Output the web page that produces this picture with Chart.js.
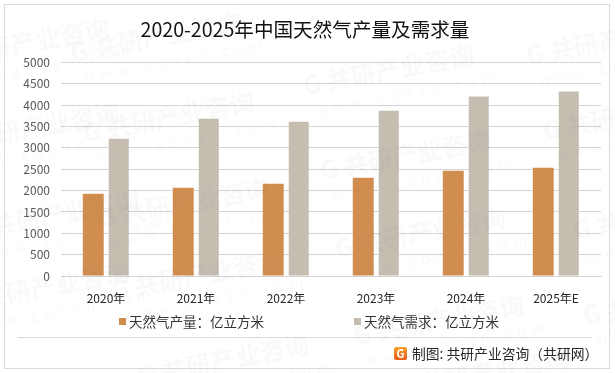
<!DOCTYPE html>
<html lang="zh">
<head>
    <meta charset="UTF-8">
    <title>2020-2025年中国天然气产量及需求量</title>
    <script src="https://cdn.jsdelivr.net/npm/chart.js"></script>
    <style>
        * {
            margin: 0;
            padding: 0;
            box-sizing: border-box;
        }

        body {
            background: #ffffff;
            width: 615px;
            height: 373px;
            overflow: hidden;
        }

        .chart-container {
            position: relative;
            width: 615px;
            height: 373px;
        }

        .frame {
            position: absolute;
            left: 4px;
            top: 4px;
            width: 606px;
            height: 365px;
            border: 1px solid #d9d9d9;
            pointer-events: none;
        }
    </style>
</head>
<body>
    <div class="chart-container">
        <canvas id="gasChart" width="615" height="373"></canvas>
        <div class="frame"></div>
    </div>

    <script>
        const years = ['2020年', '2021年', '2022年', '2023年', '2024年', '2025年E'];
        const output = [1925, 2065, 2160, 2300, 2465, 2535];
        const demand = [3216, 3685, 3615, 3873, 4202, 4319];
        const yTicks = [0, 500, 1000, 1500, 2000, 2500, 3000, 3500, 4000, 4500, 5000];

        const fontName = '"Noto Sans CJK SC", "Noto Sans", sans-serif';

        // watermark start points, repeated over the whole picture
        const markSpots = [
            [-60, 68], [72, 62], [305, 95], [528, 65],
            [-50, 152], [85, 142], [322, 180], [545, 140],
            [-30, 240], [100, 228], [337, 258], [575, 240],
            [-40, 312], [113, 300], [355, 345], [585, 325],
            [140, 385], [400, 398]
        ];

        // the legend items sit far apart, so it is drawn here from the datasets
        const legendX = [119, 354];

        const bottomLegend = {
            id: 'bottomLegend',
            afterDraw(chart) {
                const c = chart.ctx;
                c.save();
                c.textBaseline = 'middle';
                c.font = '13.5px ' + fontName;
                chart.data.datasets.forEach((ds, i) => {
                    c.fillStyle = ds.backgroundColor;
                    c.fillRect(legendX[i], 318, 7, 7);
                    c.fillStyle = '#333333';
                    c.fillText(ds.label, legendX[i] + 10, 321.5);
                });
                c.restore();
            }
        };

        const watermark = {
            id: 'watermark',
            afterDraw(chart) {
                const c = chart.ctx;
                markSpots.forEach(([x, y]) => {
                    c.save();
                    c.translate(x, y);
                    c.rotate(-10.5 * Math.PI / 180);
                    c.fillStyle = 'rgba(120, 120, 120, 0.045)';
                    c.font = 'bold 25px ' + fontName;
                    c.fillText('G 共研产业咨询', 0, 0);
                    c.font = '14px ' + fontName;
                    c.letterSpacing = '6px';
                    c.fillText('www.gonyn.com', 8, 22);
                    c.restore();
                });
            }
        };

        const footer = {
            id: 'footer',
            afterDraw(chart) {
                const c = chart.ctx;
                c.save();
                c.strokeStyle = '#d9d9d9';
                c.beginPath();
                c.moveTo(18, 337.5);
                c.lineTo(592, 337.5);
                c.stroke();

                const grad = c.createLinearGradient(0, 347, 0, 360);
                grad.addColorStop(0, '#f6a12b');
                grad.addColorStop(1, '#ea5a1c');
                c.fillStyle = grad;
                c.beginPath();
                c.roundRect(394, 347, 13, 13, 2);
                c.fill();
                c.fillStyle = '#ffffff';
                c.font = 'bold 11px ' + fontName;
                c.textAlign = 'center';
                c.textBaseline = 'middle';
                c.fillText('G', 400.5, 353.5);

                c.fillStyle = '#262626';
                c.font = '13.8px ' + fontName;
                c.textAlign = 'left';
                c.fillText('制图: 共研产业咨询（共研网）', 412, 354);
                c.restore();
            }
        };

        new Chart(document.getElementById('gasChart').getContext('2d'), {
            type: 'bar',
            data: {
                labels: years,
                datasets: [{
                    label: '天然气产量：亿立方米',
                    data: output,
                    backgroundColor: '#d18d4f',
                    categoryPercentage: 0.567,
                    barPercentage: 0.82
                },
                {
                    label: '天然气需求：亿立方米',
                    data: demand,
                    backgroundColor: '#c6bdb1',
                    categoryPercentage: 0.567,
                    barPercentage: 0.785
                }]
            },
            options: {
                responsive: false,
                animation: false,
                layout: {
                    padding: { left: 9, right: 14, bottom: 63 }
                },
                plugins: {
                    title: {
                        display: true,
                        text: '2020-2025年中国天然气产量及需求量',
                        color: '#111111',
                        font: { family: fontName, size: 19.6, weight: 'normal' },
                        padding: { top: 18, bottom: 21 }
                    },
                    legend: { display: false },
                    tooltip: { enabled: false }
                },
                scales: {
                    y: {
                        min: 0,
                        max: 5000,
                        afterBuildTicks(axis) {
                            axis.ticks = yTicks.map(v => ({ value: v }));
                        },
                        afterFit(axis) {
                            axis.width = 52;
                        },
                        border: { display: false },
                        grid: { color: '#d4d4d4', drawTicks: false },
                        ticks: {
                            color: '#595959',
                            padding: 11,
                            autoSkip: false,
                            callback: v => String(v),
                            font: { family: fontName, size: 12 }
                        }
                    },
                    x: {
                        afterFit(axis) {
                            axis.height = 34;
                        },
                        border: { color: '#d4d4d4' },
                        grid: { display: false },
                        ticks: {
                            color: '#262626',
                            padding: 7,
                            maxRotation: 0,
                            font: { family: fontName, size: 12 }
                        }
                    }
                }
            },
            plugins: [bottomLegend, footer, watermark]
        });
    </script>
</body>
</html>
